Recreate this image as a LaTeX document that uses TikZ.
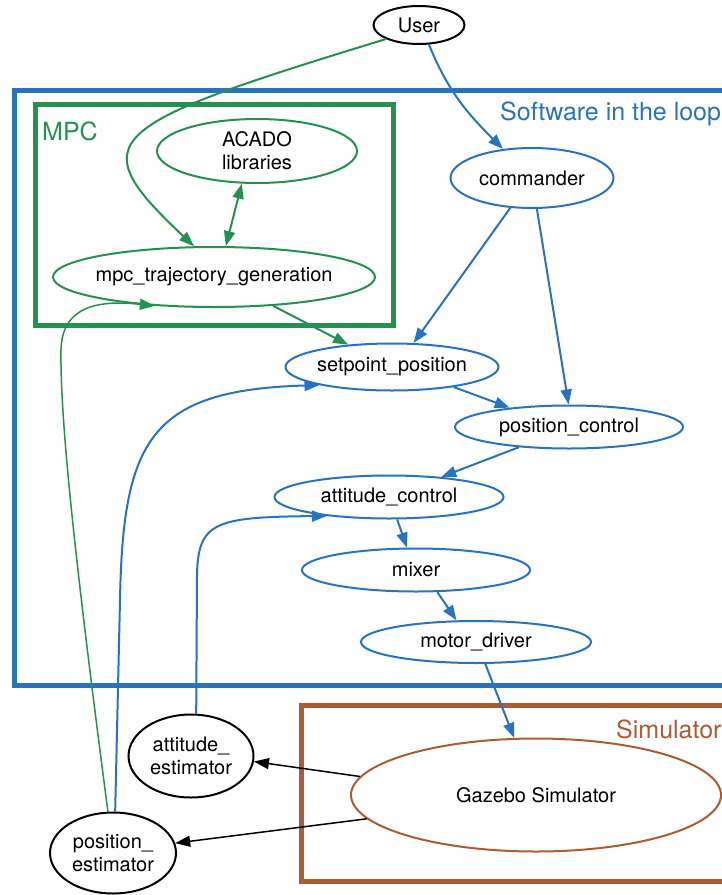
\documentclass[tikz,border=0pt]{standalone}
\usepackage{fontspec}
\setmainfont{TeX Gyre Heros}
\usetikzlibrary{shapes.geometric, arrows.meta}
\definecolor{silblue}{RGB}{40, 115, 192}
\definecolor{mpcgreen}{RGB}{37, 145, 80}
\definecolor{simbrown}{RGB}{170, 92, 54}

\tikzset{
  proc/.style={ellipse, draw, line width=2pt, inner sep=0pt, align=center,
    font=\fontsize{20}{23}\selectfont},
  link/.style={line width=2pt, -{Triangle[length=15pt, width=11pt]}},
  group/.style={line width=5pt},
  grouplabel/.style={anchor=west, inner sep=0pt, font=\fontsize{25}{28}\selectfont}
}

\begin{document}
\begin{tikzpicture}[x=1pt, y=1pt]
  \clip (0,0) rectangle (722,-895);

  % groups
  \draw[group, silblue] (14,-90) rectangle (745,-685);
  \draw[group, mpcgreen] (35,-104) rectangle (393,-325);
  \draw[group, simbrown] (301,-705) rectangle (745,-881);
  \node[grouplabel, text=silblue] (silLabel) at (500,-114) {Software in the loop};
  \node[grouplabel, text=mpcgreen] (mpcLabel) at (42,-131) {MPC};
  \node[grouplabel, text=simbrown] (simLabel) at (616,-729) {Simulator};

  % processes
  \node[proc, minimum width=91pt, minimum height=38pt] (user) at (419,-25) {User};
  \node[proc, draw=mpcgreen, minimum width=200pt, minimum height=64pt] (acado) at (257,-151) {ACADO\\libraries};
  \node[proc, draw=mpcgreen, inner xsep=-20pt, minimum width=322pt, minimum height=60pt] (mpctraj) at (214,-277) {mpc\_trajectory\_generation};
  \node[proc, draw=silblue, minimum width=163pt, minimum height=60pt] (commander) at (532,-178) {commander};
  \node[proc, draw=silblue, inner xsep=-8pt, minimum width=213pt, minimum height=47pt] (setpt) at (392,-367) {setpoint\_position};
  \node[proc, draw=silblue, inner xsep=-8pt, minimum width=228pt, minimum height=43pt] (posctrl) at (569,-427) {position\_control};
  \node[proc, draw=silblue, inner xsep=-8pt, minimum width=229pt, minimum height=43pt] (attctrl) at (389,-497) {attitude\_control};
  \node[proc, draw=silblue, minimum width=228pt, minimum height=43pt] (mixer) at (416,-570) {mixer};
  \node[proc, draw=silblue, inner xsep=-8pt, minimum width=230pt, minimum height=42pt] (motor) at (476,-642) {motor\_driver};
  \node[proc, draw=simbrown, minimum width=370pt, minimum height=113pt] (gazebo) at (536,-795) {Gazebo Simulator};
  \node[proc, minimum width=125pt, minimum height=83pt] (attest) at (191,-756) {attitude\_\\estimator};
  \node[proc, minimum width=126pt, minimum height=81pt] (posest) at (113,-853) {position\_\\estimator};

  % MPC links
  \draw[link, mpcgreen] (user.203) .. controls (102,-126) and (80,-139) .. (mpctraj.123);
  \draw[link, mpcgreen, {Triangle[length=15pt, width=11pt]}-{Triangle[length=15pt, width=11pt]}] (acado.245) -- (mpctraj.69);
  \draw[link, mpcgreen] (mpctraj.334) -- (setpt.153);
  \draw[link, mpcgreen, line width=1.5pt] (posest.97) .. controls (75,-560) and (60,-420) .. (61,-350)
    .. controls (62,-305) and (100,-300) .. (mpctraj.206);

  % software in the loop links
  \draw[link, silblue] (user.297) to[out=-68, in=135] (commander.135);
  \draw[link, silblue] (commander.234) -- (setpt.48);
  \draw[link, silblue] (commander.279) -- (posctrl.91);
  \draw[link, silblue] (setpt.342) -- (posctrl.162);
  \draw[link, silblue] (posctrl.202) -- (attctrl.21);
  \draw[link, silblue] (attctrl.290) -- (mixer.112);
  \draw[link, silblue] (mixer.314) -- (motor.132);
  \draw[link, silblue] (motor.293) -- (gazebo.111);
  \draw[link, silblue] (posest.87) -- (120,-600) .. controls (123,-440) and (150,-390) .. (setpt.194);
  \draw[link, silblue] (attest.83) -- (197,-575) .. controls (198,-522) and (215,-517) .. (attctrl.197);

  % simulator outputs
  \draw[link, line width=1.5pt] (gazebo.174) -- (attest.355);
  \draw[link, line width=1.5pt] (gazebo.188) -- (posest.9);
\end{tikzpicture}
\end{document}
